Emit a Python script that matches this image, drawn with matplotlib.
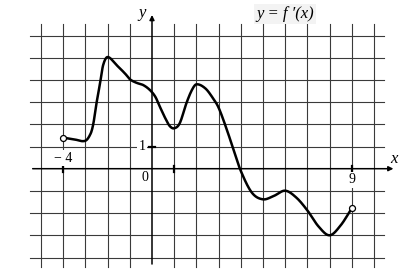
import numpy as np
import matplotlib
matplotlib.use('Agg')
import matplotlib.pyplot as plt

plt.rcParams['font.family'] = ['Liberation Serif', 'DejaVu Serif']

x_pts = [-4, -3.5, -3, -2.76, -2.64, -2.5, -2.34, -2.2, -2, -1.6, -1.2, -1, -0.7, -0.4, -0.1,
         0.15, 0.35, 0.6, 0.8, 1, 1.25, 1.55, 1.8, 2, 2.4, 2.75, 3, 3.35, 3.65, 4,
         4.5, 5, 5.5, 6, 6.5, 7, 7.5, 8, 8.5, 9]
y_pts = [1.40, 1.32, 1.26, 1.59, 2.04, 2.95, 3.85, 4.67, 5.03, 4.67, 4.27, 4.03, 3.87, 3.77, 3.55,
         3.24, 2.8, 2.27, 1.92, 1.82, 2.05, 2.95, 3.55, 3.8, 3.62, 3.17, 2.75, 1.82, 0.92, -0.1,
         -1.08, -1.38, -1.22, -0.99, -1.3, -1.88, -2.6, -3.0, -2.55, -1.78]

grid_x = list(range(-5, 11))
grid_y = list(range(-4, 7))
tick_labels = {'-4': (-4, 0.48), '9': (9, -0.5), '1': (-0.46, 1.0), '0': (-0.3, -0.38)}


def smooth(x, y, xs):
    # cubic hermite through the read points, slopes from neighbours (drawing only)
    x = np.asarray(x, float); y = np.asarray(y, float)
    h = np.diff(x)
    m = np.zeros_like(y)
    m[1:-1] = (y[2:] - y[:-2]) / (x[2:] - x[:-2])
    m[0] = (y[1] - y[0]) / h[0]; m[-1] = (y[-1] - y[-2]) / h[-1]
    idx = np.clip(np.searchsorted(x, xs) - 1, 0, len(h) - 1)
    t = (xs - x[idx]) / h[idx]
    h00 = 2*t**3 - 3*t**2 + 1; h10 = t**3 - 2*t**2 + t
    h01 = -2*t**3 + 3*t**2; h11 = t**3 - t**2
    return h00*y[idx] + h10*h[idx]*m[idx] + h01*y[idx+1] + h11*h[idx]*m[idx+1]


fig = plt.figure(figsize=(4.03, 2.78), dpi=100)
ax = fig.add_axes([0, 0, 1, 1])
ax.set_xlim(-152/22.2, (403-152)/22.2)
ax.set_ylim(-(278-168.7)/22.2, 168.7/22.2)
ax.axis('off')

# grid
for gx in grid_x:
    if gx != 0:
        ax.plot([gx, gx], [-4.42, 6.5], color='#3a3a3a', lw=0.8, zorder=1)
for gy in grid_y:
    if gy != 0:
        ax.plot([-5.5, 10.45], [gy, gy], color='#3a3a3a', lw=0.8, zorder=1)

# axes with arrows
ax.annotate('', xy=(11.0, 0), xytext=(-5.5, 0),
            arrowprops=dict(arrowstyle='-|>', color='black', lw=1.1, mutation_scale=7), zorder=2)
ax.annotate('', xy=(0, 7.05), xytext=(0, -4.42),
            arrowprops=dict(arrowstyle='-|>', color='black', lw=1.1, mutation_scale=7), zorder=2)

# small ticks
for tx in [-4, 1, 9]:
    ax.plot([tx, tx], [-0.13, 0.13], color='black', lw=1.6, zorder=3)
ax.plot([-0.13, 0.13], [1, 1], color='black', lw=1.6, zorder=3)

# labels
box = dict(facecolor='white', edgecolor='none', pad=1.0)
ax.text(tick_labels['-4'][0], tick_labels['-4'][1], '\u2212 4', fontsize=10, ha='center', va='center', bbox=box, zorder=4)
ax.text(tick_labels['9'][0], tick_labels['9'][1], '9', fontsize=10, ha='center', va='center', bbox=box, zorder=4)
ax.text(tick_labels['1'][0], tick_labels['1'][1], '1', fontsize=10, ha='center', va='center', bbox=box, zorder=4)
ax.text(tick_labels['0'][0], tick_labels['0'][1], '0', fontsize=10, ha='center', va='center', zorder=4)
ax.text(-0.45, 7.0, 'y', fontsize=12, style='italic', ha='center', va='center')
ax.text(10.9, 0.42, 'x', fontsize=12, style='italic', ha='center', va='center')
ax.text(6.0, 6.95, 'y = f \u2032(x)', fontsize=12, style='italic', ha='center', va='center',
        bbox=dict(facecolor='#f3f3f3', edgecolor='none', pad=1.5), zorder=4)

# curve
xs = np.linspace(x_pts[0], x_pts[-1], 1000)
ax.plot(xs, smooth(x_pts, y_pts, xs), color='black', lw=1.8, zorder=5, solid_capstyle='round')
ax.plot([x_pts[0], x_pts[-1]], [y_pts[0], y_pts[-1]], 'o', ms=4.3, mfc='white', mec='black', mew=0.9, zorder=6)

fig.savefig('out.png', dpi=100)
